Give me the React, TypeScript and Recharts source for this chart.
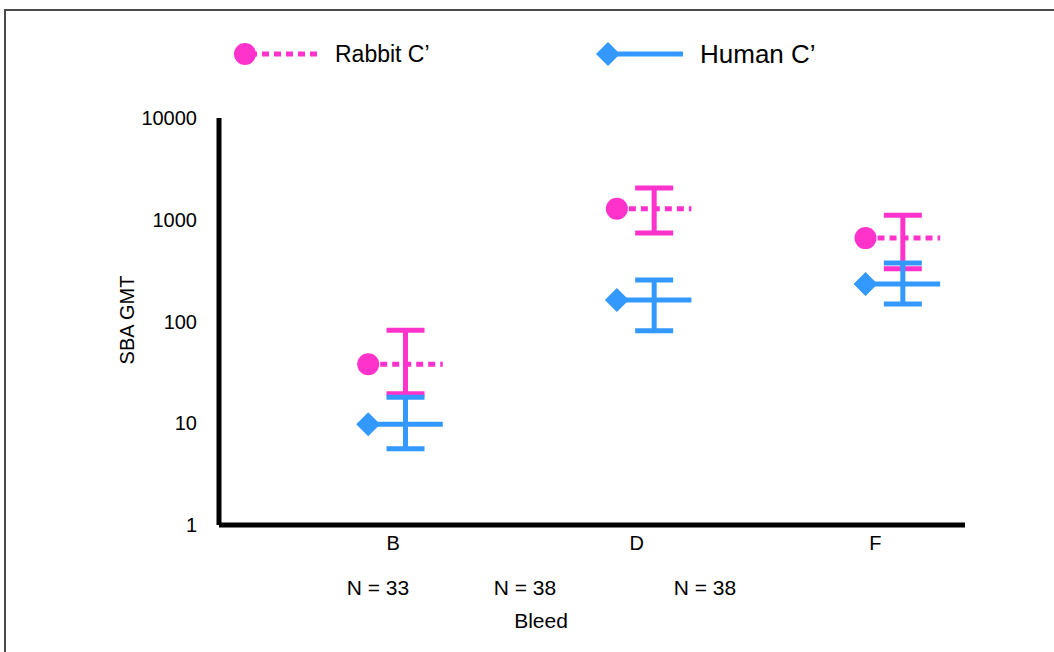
import React from "react";
import {
  ComposedChart,
  Line,
  Scatter,
  ErrorBar,
  XAxis,
  YAxis,
} from "recharts";

const bleeds = ["B", "D", "F"];
const nLabels = ["N = 33", "N = 38", "N = 38"];
const yTicks = [1, 10, 100, 1000, 10000];

const rabbitGMT = [38, 1280, 660];
const rabbitLow = [19.5, 740, 330];
const rabbitHigh = [82, 2050, 1110];

const humanGMT = [9.8, 163, 234];
const humanLow = [5.6, 81, 149];
const humanHigh = [18, 256, 376];

const PINK = "#FF33CC";
const BLUE = "#3399FF";
const FONT = "'Liberation Sans', Arial, sans-serif";

// where each group sits on the 0..3 x range
const groupX = bleeds.map((_, i) => i + 0.75);
const tickX = [0.7, 1.68, 2.64];
const segLeft = 0.15;
const segRight = 0.15;

const segments = (vals: number[]) =>
  vals.map((v, i) => [
    { x: groupX[i] - segLeft, y: v },
    { x: groupX[i] + segRight, y: v },
  ]);

const errPoints = (vals: number[], lo: number[], hi: number[]) =>
  vals.map((v, i) => ({ x: groupX[i], y: v, err: [v - lo[i], hi[i] - v] }));

const rabbitSeg = segments(rabbitGMT);
const humanSeg = segments(humanGMT);
const rabbitErr = errPoints(rabbitGMT, rabbitLow, rabbitHigh);
const humanErr = errPoints(humanGMT, humanLow, humanHigh);

const CircleDot = (props: any) => {
  if (props.index !== 0) return <g key={props.key} />;
  return <circle key={props.key} cx={props.cx} cy={props.cy} r={11} fill={PINK} />;
};

const DiamondDot = (props: any) => {
  if (props.index !== 0) return <g key={props.key} />;
  const { cx, cy } = props;
  const r = 12;
  return (
    <path
      key={props.key}
      d={`M${cx - r},${cy}L${cx},${cy - r}L${cx + r},${cy}L${cx},${cy + r}Z`}
      fill={BLUE}
    />
  );
};

const NoShape = () => <g />;

export default function App() {
  return (
    <div
      style={{
        position: "absolute",
        left: 0,
        top: 0,
        width: 1054,
        height: 652,
        background: "#fff",
        fontFamily: FONT,
        overflow: "hidden",
      }}
    >
      {/* slide frame + legend */}
      <svg
        width={1054}
        height={652}
        style={{ position: "absolute", left: 0, top: 0 }}
      >
        <path d="M5,652L5,10L1054,10" fill="none" stroke="#4a4a4a" strokeWidth={2} />
        <line x1={250} y1={54} x2={322} y2={54} stroke={PINK} strokeWidth={5} strokeDasharray="7 5" />
        <circle cx={245} cy={54} r={11} fill={PINK} />
        <text x={335} y={62} fontSize={23} fontFamily={FONT} fill="#000">
          Rabbit C’
        </text>
        <line x1={610} y1={54} x2={683} y2={54} stroke={BLUE} strokeWidth={5} />
        <path d="M596,54L608,42L620,54L608,66Z" fill={BLUE} />
        <text x={700} y={63} fontSize={26} fontFamily={FONT} fill="#000">
          Human C’
        </text>
      </svg>

      <div style={{ position: "absolute", left: 0, top: 0 }}>
        <ComposedChart
          width={1054}
          height={652}
          margin={{ top: 118, right: 89, bottom: 0, left: 0 }}
        >
          <XAxis
            type="number"
            dataKey="x"
            domain={[0, 3]}
            ticks={tickX}
            tickFormatter={(v: number) => bleeds[tickX.indexOf(v)] ?? ""}
            axisLine={{ stroke: "#000", strokeWidth: 5 }}
            tickLine={false}
            tickSize={0}
            tickMargin={11}
            height={127}
            tick={{ fill: "#000", fontSize: 20, fontFamily: FONT }}
            allowDataOverflow
          />
          <YAxis
            type="number"
            scale="log"
            domain={[1, 10000]}
            ticks={yTicks}
            allowDataOverflow
            width={219}
            axisLine={{ stroke: "#000", strokeWidth: 5 }}
            tickLine={false}
            tickSize={0}
            tickMargin={22}
            tick={{ fill: "#000", fontSize: 20, fontFamily: FONT }}
          />

          {rabbitSeg.map((d, i) => (
            <Line
              key={"r" + i}
              data={d}
              dataKey="y"
              stroke={PINK}
              strokeWidth={5}
              strokeDasharray="7 5"
              dot={CircleDot}
              activeDot={false}
              isAnimationActive={false}
            />
          ))}
          {humanSeg.map((d, i) => (
            <Line
              key={"h" + i}
              data={d}
              dataKey="y"
              stroke={BLUE}
              strokeWidth={5}
              dot={DiamondDot}
              activeDot={false}
              isAnimationActive={false}
            />
          ))}

          <Scatter data={rabbitErr} dataKey="y" shape={NoShape} isAnimationActive={false}>
            <ErrorBar dataKey="err" direction="y" width={19} stroke={PINK} strokeWidth={5} />
          </Scatter>
          <Scatter data={humanErr} dataKey="y" shape={NoShape} isAnimationActive={false}>
            <ErrorBar dataKey="err" direction="y" width={19} stroke={BLUE} strokeWidth={5} />
          </Scatter>
        </ComposedChart>
      </div>

      <div
        style={{
          position: "absolute",
          left: 127,
          top: 320,
          transform: "translate(-50%, -50%) rotate(-90deg)",
          fontSize: 20,
          whiteSpace: "nowrap",
        }}
      >
        SBA GMT
      </div>

      {nLabels.map((t, i) => (
        <div
          key={i}
          style={{
            position: "absolute",
            left: [378, 525, 705][i],
            top: 588,
            transform: "translate(-50%, -50%)",
            fontSize: 21,
            whiteSpace: "nowrap",
          }}
        >
          {t}
        </div>
      ))}

      <div
        style={{
          position: "absolute",
          left: 541,
          top: 621,
          transform: "translate(-50%, -50%)",
          fontSize: 21,
        }}
      >
        Bleed
      </div>
    </div>
  );
}
